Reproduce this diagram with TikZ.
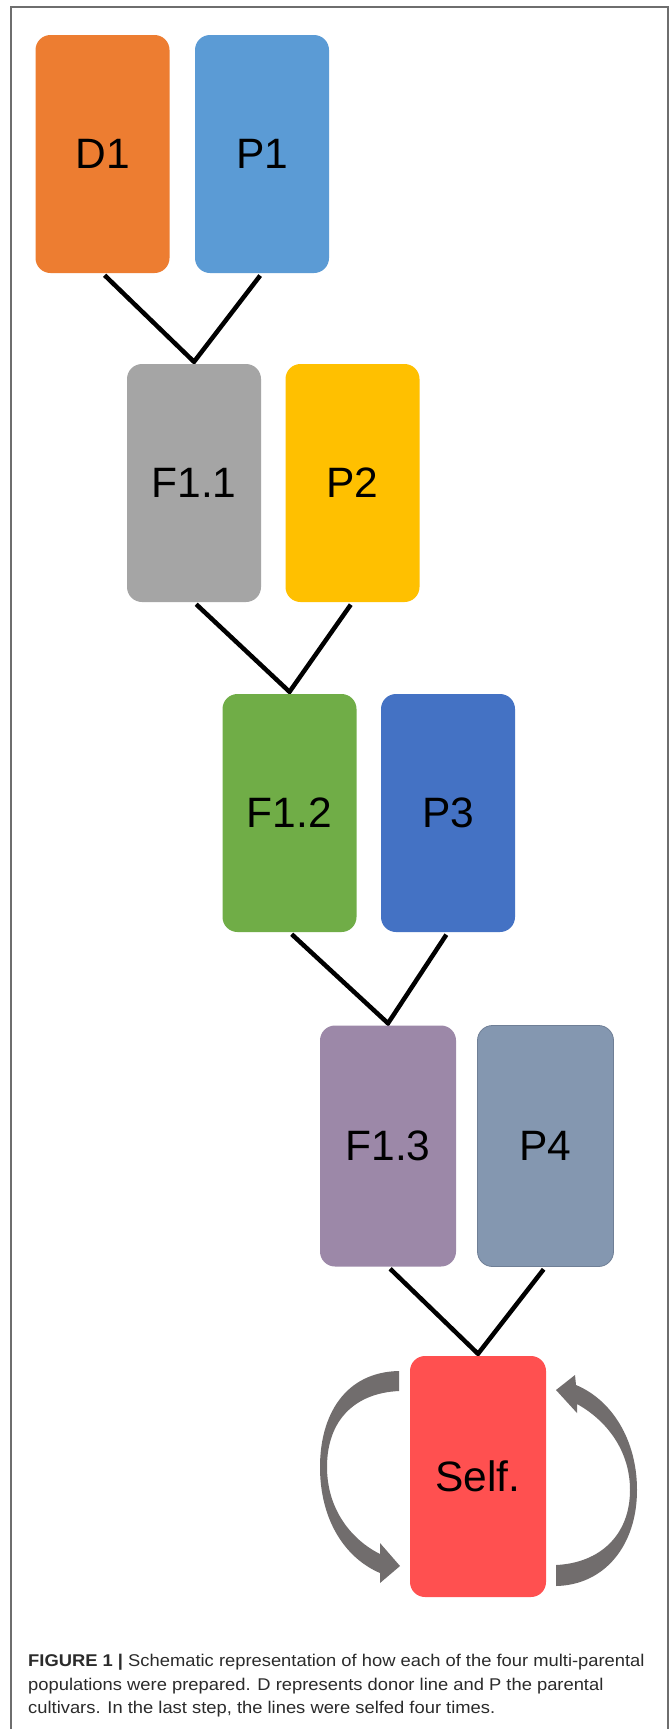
\documentclass[tikz,border=0pt]{standalone}
\usepackage{fontspec}
\setmainfont{Liberation Sans}
\newfontfamily\captionface[FakeStretch=1.08]{Liberation Sans}
\usetikzlibrary{backgrounds}

\definecolor{cDonor}{HTML}{ED7D31}
\definecolor{cPone}{HTML}{5B9BD5}
\definecolor{cFone}{HTML}{A5A5A5}
\definecolor{cPtwo}{HTML}{FFC000}
\definecolor{cFtwo}{HTML}{70AD47}
\definecolor{cPthree}{HTML}{4472C4}
\definecolor{cFthree}{HTML}{9C88A8}
\definecolor{cPfour}{HTML}{8497B0}
\definecolor{cPfourEdge}{HTML}{6F7F96}
\definecolor{cSelf}{HTML}{FF5050}
\definecolor{arrowgray}{HTML}{716D6D}
\definecolor{framegray}{HTML}{6E6E6E}
\definecolor{captgray}{HTML}{2B2B2B}

\begin{document}
\begin{tikzpicture}[x=1pt,y=-1pt,
  stagebox/.style={rectangle, rounded corners=15pt, minimum width=134pt,
    minimum height=238pt, inner sep=0pt, text=black,
    font=\fontsize{42.5}{48}\selectfont},
  lowbox/.style={stagebox, minimum width=136pt, minimum height=241pt},
  crossline/.style={line width=4.5pt, black, line join=miter,
    shorten <=3pt, shorten >=3pt},
  cyclearrow/.style={fill=arrowgray, draw=none},
  captxt/.style={anchor=base west, inner sep=0pt, text=captgray,
    font=\captionface\fontsize{17}{20}\selectfont}]

\useasboundingbox (0,0) rectangle (670,1729);

% crossing scheme
\node[stagebox, fill=cDonor]  (D1)  at (102.5,154) {D1};
\node[stagebox, fill=cPone]   (P1)  at (262,154)   {P1};
\node[stagebox, fill=cFone]   (F11) at (194,483)   {F1.1};
\node[stagebox, fill=cPtwo]   (P2)  at (352.5,483) {P2};
\node[stagebox, fill=cFtwo]   (F12) at (289.5,813) {F1.2};
\node[stagebox, fill=cPthree] (P3)  at (448,813)   {P3};
\node[lowbox, fill=cFthree]   (F13) at (388,1146)  {F1.3};
\node[lowbox, fill=cPfour, draw=cPfourEdge, line width=0.8pt] (P4) at (545.5,1146) {P4};
\node[lowbox, fill=cSelf]     (S)   at (478,1476.5) {Self.};

\begin{pgfonlayer}{background}
  \fill[white] (0,0) rectangle (670,1729);
  \draw[framegray, line width=1.5pt] (11,1729) -- (11,7) -- (668,7) -- (668,1729);
  \draw[crossline] (D1.south)  -- ([yshift=2pt]F11.north) -- (P1.south);
  \draw[crossline] (F11.south) -- ([yshift=2pt]F12.north) -- (P2.south);
  \draw[crossline] (F12.south) -- ([yshift=2pt]F13.north) -- (P3.south);
  \draw[crossline] (F13.south) -- ([yshift=2pt]S.north)   -- (P4.south);
\end{pgfonlayer}

% selfing loops
\fill[cyclearrow] (399,1371) .. controls (345,1372) and (320,1415) .. (320,1467)
  .. controls (320,1520) and (345,1558) .. (380,1573)
  -- (380,1583) -- (400,1566) -- (380,1543) -- (380,1554)
  .. controls (352,1540) and (327,1510) .. (327,1467)
  .. controls (327,1420) and (355,1393) .. (399,1391) -- cycle;
\fill[cyclearrow] (556,1586) .. controls (605,1585) and (637,1545) .. (637,1490)
  .. controls (637,1440) and (612,1400) .. (576,1385)
  -- (575,1375) -- (556,1390) -- (577,1413) -- (577,1404)
  .. controls (606,1420) and (630,1450) .. (630,1490)
  .. controls (630,1535) and (600,1563) .. (556,1565) -- cycle;

% caption
\node[captxt] (cap1) at (28,1666) {\textbf{FIGURE 1 |} Schematic representation of how each of the four multi-parental};
\node[captxt] (cap2) at (28,1690) {populations were prepared. D represents donor line and P the parental};
\node[captxt] (cap3) at (28,1713) {cultivars. In the last step, the lines were selfed four times.};
\end{tikzpicture}
\end{document}
